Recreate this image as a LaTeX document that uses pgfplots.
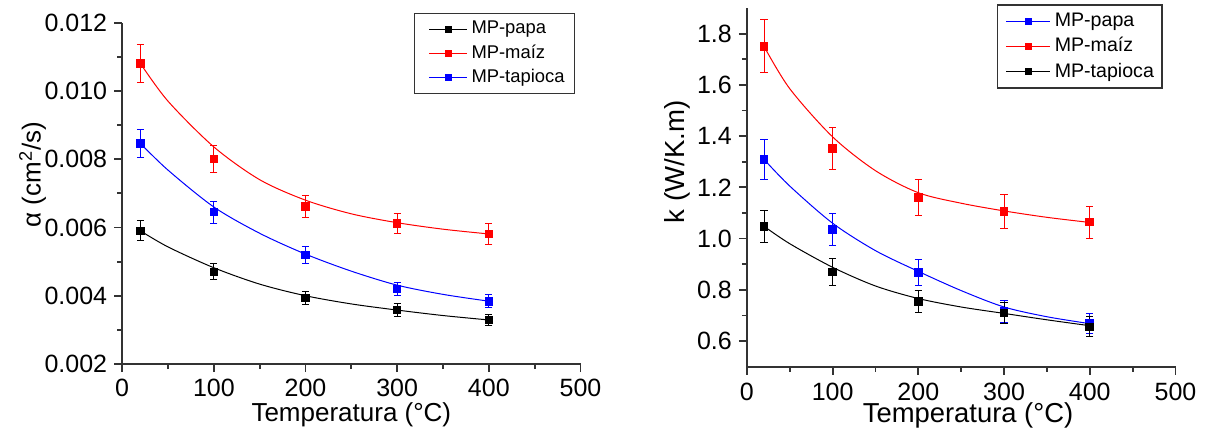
\documentclass[border=0pt]{standalone}
\usepackage{pgfplots}
\pgfplotsset{compat=1.18}
\usepackage{fontspec}
\setmainfont{Liberation Sans}
\begin{document}
\begin{tikzpicture}
\useasboundingbox (0,0) rectangle (602.5pt,214.5pt);
\pgfplotsset{
  common/.style={
    scale only axis,
    axis x line*=bottom, axis y line*=left,
    axis line style={black!80, line width=0.9pt},
    tick style={black!80, line width=0.9pt},
    tick align=outside,
    major tick length=4pt, minor tick length=2.5pt,
    xmin=0, xmax=500, xtick={0,100,200,300,400,500}, minor x tick num=1,
    tick label style={font=\fontsize{12.5}{14}\selectfont},
    /pgf/number format/assume math mode=true,
    clip=false,
    legend cell align=left,
    every axis plot/.append style={line width=0.5pt},
    error bars/y dir=both, error bars/y explicit,
    error bars/error bar style={line width=0.5pt},
    error bars/error mark options={rotate=90, mark size=1.8pt, line width=0.5pt},
  },
  dat/.style={only marks, mark=square*, mark size=1.9pt, color=#1},
  fit/.style={smooth, forget plot, color=#1, line width=0.5pt, mark=none},
}
% ---------------- left panel ----------------
\begin{axis}[common,
  at={(61.1pt,32.5pt)}, anchor=south west,
  width=229.15pt, height=170.65pt,
  ymin=0.002, ymax=0.012,
  ytick={0.002,0.004,0.006,0.008,0.010,0.012}, minor y tick num=1,
  scaled y ticks=false,
  yticklabel style={/pgf/number format/.cd, fixed, fixed zerofill, precision=3},
  xlabel={Temperatura (°C)},
  ylabel={α (cm\textsuperscript{2}/s)},
  xlabel style={font=\fontsize{13}{15}\selectfont, at={(axis description cs:0.5,0)}, anchor=base, yshift=-28.85pt},
  ylabel style={font=\fontsize{13}{15}\selectfont, at={(axis description cs:0,0.555)}, anchor=center, yshift=44.85pt},
  legend image code/.code={
    \path (0pt,0pt);
    \draw[#1, line width=0.4pt] (4pt,0pt) -- (23pt,0pt);
    \draw[#1, only marks, mark size=1.45pt] plot coordinates {(13.5pt,0pt)};
  },
  legend style={at={(axis description cs:0.6367,1.0293)}, anchor=north west,
    draw=black!80, line width=0.6pt, font=\fontsize{9.2}{11}\selectfont,
    inner xsep=3pt},
]
\addplot[fit=black] coordinates {(20,0.0059) (50,0.00543) (100,0.00482) (150,0.00434) (200,0.00400) (250,0.00376) (300,0.00358) (350,0.00342) (400,0.00329)};
\addplot[fit=red] coordinates {(20,0.0108) (50,0.0097) (100,0.00836) (150,0.00740) (200,0.00680) (250,0.00640) (300,0.00614) (350,0.00595) (400,0.00581)};
\addplot[fit=blue] coordinates {(20,0.00846) (50,0.00768) (100,0.0066) (150,0.00583) (200,0.00522) (250,0.00472) (300,0.00431) (350,0.00404) (400,0.00384)};
\addplot[dat=black] coordinates {(20,0.0059) +- (0,0.00029) (100,0.0047) +- (0,0.00023) (200,0.00393) +- (0,0.0002) (300,0.00358) +- (0,0.00018) (400,0.00329) +- (0,0.00016)};
\addlegendentry{MP-papa}
\addplot[dat=red] coordinates {(20,0.01081) +- (0,0.00055) (100,0.00801) +- (0,0.0004) (200,0.00662) +- (0,0.00033) (300,0.00612) +- (0,0.0003) (400,0.00581) +- (0,0.0003)};
\addlegendentry{MP-maíz}
\addplot[dat=blue] coordinates {(20,0.00846) +- (0,0.00042) (100,0.00645) +- (0,0.00032) (200,0.00519) +- (0,0.00025) (300,0.0042) +- (0,0.0002) (400,0.00384) +- (0,0.00019)};
\addlegendentry{MP-tapioca}
\end{axis}
% ---------------- right panel ----------------
\begin{axis}[common,
  at={(373.45pt,31.15pt)}, anchor=south west,
  width=214.3pt, height=179.35pt,
  ymin=0.5, ymax=1.9,
  ytick={0.6,0.8,1.0,1.2,1.4,1.6,1.8}, minor y tick num=1,
  yticklabel style={/pgf/number format/.cd, fixed, fixed zerofill, precision=1},
  xticklabel style={inner sep=0.5pt, yshift=-3.7pt},
  xlabel={Temperatura (°C)},
  ylabel={k (W/K.m)},
  xlabel style={font=\fontsize{13.7}{16}\selectfont, inner sep=0pt, at={(axis description cs:0.5,0)}, anchor=base, yshift=-28pt, xshift=3.4pt},
  ylabel style={font=\fontsize{13.8}{16}\selectfont, at={(axis description cs:0,0.5715)}, anchor=center, yshift=34.95pt},
  legend image code/.code={
    \path (0pt,0pt);
    \draw[#1, line width=0.4pt] (2pt,0pt) -- (24pt,0pt);
    \draw[#1, only marks, mark size=1.5pt] plot coordinates {(13pt,0pt)};
  },
  legend style={at={(axis description cs:0.5842,1.0103)}, anchor=north west,
    draw=black!80, line width=0.6pt, font=\fontsize{9.8}{12}\selectfont,
    inner xsep=2pt},
]
\addplot[fit=blue] coordinates {(20,1.309) (50,1.205) (100,1.06) (150,0.953) (200,0.872) (250,0.797) (300,0.733) (350,0.695) (400,0.668)};
\addplot[fit=red] coordinates {(20,1.75) (50,1.585) (100,1.397) (150,1.265) (200,1.179) (250,1.138) (300,1.108) (350,1.083) (400,1.063)};
\addplot[fit=black] coordinates {(20,1.048) (50,0.98) (100,0.888) (150,0.815) (200,0.766) (250,0.733) (300,0.708) (350,0.683) (400,0.66)};
\addplot[dat=blue] coordinates {(20,1.309) +- (0,0.079) (100,1.035) +- (0,0.062) (200,0.867) +- (0,0.052) (300,0.716) +- (0,0.044) (400,0.669) +- (0,0.039)};
\addlegendentry{MP-papa}
\addplot[dat=red] coordinates {(20,1.7506) +- (0,0.104) (100,1.352) +- (0,0.081) (200,1.16) +- (0,0.07) (300,1.105) +- (0,0.067) (400,1.064) +- (0,0.063)};
\addlegendentry{MP-maíz}
\addplot[dat=black] coordinates {(20,1.048) +- (0,0.062) (100,0.869) +- (0,0.052) (200,0.755) +- (0,0.044) (300,0.71) +- (0,0.042) (400,0.655) +- (0,0.039)};
\addlegendentry{MP-tapioca}
\end{axis}
\end{tikzpicture}
\end{document}
